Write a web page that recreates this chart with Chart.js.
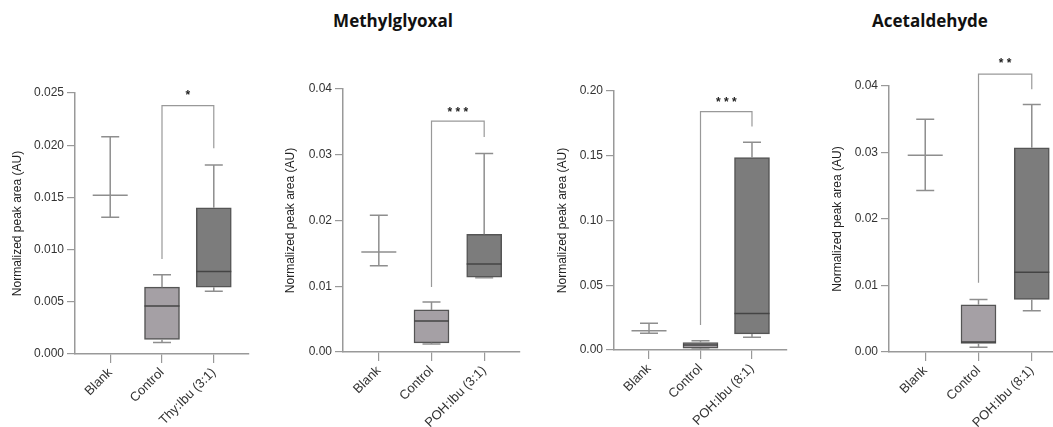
<!DOCTYPE html>
<html>
<head>
<meta charset="utf-8">
<script src="https://cdn.jsdelivr.net/npm/chart.js@4.4.0/dist/chart.umd.min.js"></script>
<style>
  body { margin: 0; background: #fff; width: 1053px; height: 427px; overflow: hidden; position: relative; }
  .panel { position: absolute; top: 0; height: 427px; }
  .title { position: absolute; top: 9px; font-family: 'Open Sans', sans-serif; font-weight: 700; font-size: 17px; color: #111; transform: translateX(-50%); white-space: nowrap; }
</style>
</head>
<body>
<div class="title" style="left:393px">Methylglyoxal</div>
<div class="title" style="left:930px">Acetaldehyde</div>
<div class="panel" style="left:0px;width:260px"><canvas id="c1"></canvas></div>
<div class="panel" style="left:262px;width:262px"><canvas id="c2"></canvas></div>
<div class="panel" style="left:527px;width:265px"><canvas id="c3"></canvas></div>
<div class="panel" style="left:800px;width:270px"><canvas id="c4"></canvas></div>
<script>
// panel 1 - Methylglyoxal, Thy:Ibu (3:1)
var p1Labels = ['Blank', 'Control', 'Thy:Ibu (3:1)'];
var p1Min = [0.0131, 0.0011, 0.0060];
var p1Q1  = [0.0152, 0.0014, 0.0064];
var p1Med = [0.0152, 0.0046, 0.0079];
var p1Q3  = [0.0152, 0.0064, 0.0140];
var p1Max = [0.0208, 0.0076, 0.0181];
var p1Ticks = [0, 0.005, 0.010, 0.015, 0.020, 0.025];
var p1Sig = [0.0238, 0.0091, 0.0197, 0.0250]; // top, left end, right end, star level
var p1Stars = '*';

// panel 2 - Methylglyoxal, POH:Ibu (3:1)
var p2Labels = ['Blank', 'Control', 'POH:Ibu (3:1)'];
var p2Min = [0.0131, 0.0012, 0.0113];
var p2Q1  = [0.0152, 0.0014, 0.0114];
var p2Med = [0.0152, 0.0047, 0.0134];
var p2Q3  = [0.0152, 0.0064, 0.0179];
var p2Max = [0.0208, 0.0076, 0.0302];
var p2Ticks = [0, 0.01, 0.02, 0.03, 0.04];
var p2Sig = [0.0351, 0.0099, 0.0327, 0.0368];
var p2Stars = '* * *';

// panel 3 - POH:Ibu (8:1)
var p3Labels = ['Blank', 'Control', 'POH:Ibu (8:1)'];
var p3Min = [0.0129, 0.0008, 0.0098];
var p3Q1  = [0.0149, 0.0015, 0.0124];
var p3Med = [0.0149, 0.0039, 0.0281];
var p3Q3  = [0.0149, 0.0057, 0.1485];
var p3Max = [0.0206, 0.0072, 0.1604];
var p3Ticks = [0, 0.05, 0.10, 0.15, 0.20];
var p3Sig = [0.184, 0.0193, 0.1725, 0.1936];
var p3Stars = '* * *';

// panel 4 - Acetaldehyde, POH:Ibu (8:1)
var p4Labels = ['Blank', 'Control', 'POH:Ibu (8:1)'];
var p4Min = [0.0243, 0.0007, 0.0062];
var p4Q1  = [0.0296, 0.0013, 0.0079];
var p4Med = [0.0296, 0.0015, 0.0120];
var p4Q3  = [0.0296, 0.0071, 0.0307];
var p4Max = [0.0350, 0.0079, 0.0372];
var p4Ticks = [0, 0.01, 0.02, 0.03, 0.04];
var p4Sig = [0.0418, 0.0104, 0.0395, 0.0438];
var p4Stars = '* *';

var boxFills = ['rgba(0,0,0,0)', '#a5a0a5', '#7c7c7c'];
var boxBorders = ['rgba(0,0,0,0)', '#555555', '#555555'];
var lineGray = '#8e8e8e';

function boxPlugin(d) {
    return {
        id: 'boxes',
        afterDraw: function(chart) {
            var ctx = chart.ctx;
            var x = chart.scales.x, y = chart.scales.y;
            var cap = 9, half = 17.5;
            ctx.save();
            ctx.lineWidth = 1.5;
            for (var i = 0; i < d.min.length; i++) {
                var px = x.getPixelForValue(i);
                ctx.strokeStyle = lineGray;
                // whiskers
                ctx.beginPath();
                ctx.moveTo(px, y.getPixelForValue(d.min[i]));
                ctx.lineTo(px, y.getPixelForValue(d.q1[i]));
                ctx.moveTo(px, y.getPixelForValue(d.q3[i]));
                ctx.lineTo(px, y.getPixelForValue(d.max[i]));
                ctx.moveTo(px - cap, y.getPixelForValue(d.min[i]));
                ctx.lineTo(px + cap, y.getPixelForValue(d.min[i]));
                ctx.moveTo(px - cap, y.getPixelForValue(d.max[i]));
                ctx.lineTo(px + cap, y.getPixelForValue(d.max[i]));
                ctx.stroke();
                // median
                ctx.strokeStyle = i == 0 ? lineGray : '#444';
                ctx.beginPath();
                ctx.moveTo(px - half, y.getPixelForValue(d.med[i]));
                ctx.lineTo(px + half, y.getPixelForValue(d.med[i]));
                ctx.stroke();
            }
            // significance bracket
            var xl = x.getPixelForValue(1), xr = x.getPixelForValue(2);
            ctx.strokeStyle = '#999';
            ctx.lineWidth = 1.2;
            ctx.beginPath();
            ctx.moveTo(xl, y.getPixelForValue(d.sig[1]));
            ctx.lineTo(xl, y.getPixelForValue(d.sig[0]));
            ctx.lineTo(xr, y.getPixelForValue(d.sig[0]));
            ctx.lineTo(xr, y.getPixelForValue(d.sig[2]));
            ctx.stroke();
            ctx.fillStyle = '#222';
            ctx.font = 'bold 12px "Liberation Sans", Arial, sans-serif';
            ctx.textAlign = 'center';
            ctx.textBaseline = 'middle';
            ctx.fillText(d.stars, (xl + xr) / 2, y.getPixelForValue(d.sig[3]) + 3);
            ctx.restore();
        }
    };
}

function makePanel(id, d, lay) {
    var data = d.q1.map(function(q, i) { return { x: i, y: [q, d.q3[i]] }; });
    return new Chart(document.getElementById(id), {
        type: 'bar',
        data: {
            datasets: [{
                data: data,
                backgroundColor: boxFills,
                borderColor: boxBorders,
                borderWidth: 1.5,
                borderSkipped: false,
                barThickness: 35
            }]
        },
        plugins: [boxPlugin(d)],
        options: {
            responsive: true,
            maintainAspectRatio: false,
            animation: false,
            events: [],
            layout: { padding: { left: lay.padLeft, right: lay.padRight, top: lay.top, bottom: 0 } },
            plugins: { legend: { display: false }, tooltip: { enabled: false } },
            scales: {
                x: {
                    type: 'linear',
                    min: -0.68,
                    max: 2.68,
                    offset: false,
                    afterBuildTicks: function(s) { s.ticks = [0, 1, 2].map(function(v) { return { value: v }; }); },
                    afterFit: function(s) { s.height = 427 - lay.bottom; },
                    grid: { offset: false, drawOnChartArea: false, drawTicks: true, tickLength: 9, color: '#999', lineWidth: 1.2 },
                    border: { color: '#999', width: 1.5 },
                    ticks: {
                        autoSkip: false,
                        minRotation: 45,
                        maxRotation: 45,
                        padding: 2,
                        color: '#333',
                        font: { family: '"Liberation Sans", Arial, sans-serif', size: 13 },
                        callback: function(v) { return d.labels[v]; }
                    }
                },
                y: {
                    min: 0,
                    max: d.ticks[d.ticks.length - 1],
                    afterBuildTicks: function(s) { s.ticks = d.ticks.map(function(v) { return { value: v }; }); },
                    afterFit: function(s) { s.width = lay.axisW; },
                    grid: { drawOnChartArea: false, drawTicks: true, tickLength: 8, color: '#999', lineWidth: 1.2 },
                    border: { color: '#999', width: 1.5 },
                    ticks: {
                        padding: 3,
                        color: '#333',
                        font: { family: '"Liberation Sans", Arial, sans-serif', size: 12 },
                        callback: function(v) { return v.toFixed(d.dec); }
                    },
                    title: {
                        display: true,
                        text: 'Normalized peak area (AU)',
                        color: '#222',
                        font: { family: '"Liberation Sans", Arial, sans-serif', size: 12 },
                        padding: 4
                    }
                }
            }
        }
    });
}

makePanel('c1', { labels: p1Labels, min: p1Min, q1: p1Q1, med: p1Med, q3: p1Q3, max: p1Max, ticks: p1Ticks, sig: p1Sig, stars: p1Stars, dec: 3 },
    { padLeft: 6, padRight: 11, axisW: 69, top: 93, bottom: 354 });
makePanel('c2', { labels: p2Labels, min: p2Min, q1: p2Q1, med: p2Med, q3: p2Q3, max: p2Max, ticks: p2Ticks, sig: p2Sig, stars: p2Stars, dec: 2 },
    { padLeft: 17, padRight: 4, axisW: 64, top: 89, bottom: 352 });
makePanel('c3', { labels: p3Labels, min: p3Min, q1: p3Q1, med: p3Med, q3: p3Q3, max: p3Max, ticks: p3Ticks, sig: p3Sig, stars: p3Stars, dec: 2 },
    { padLeft: 24, padRight: 5, axisW: 63, top: 91, bottom: 350 });
makePanel('c4', { labels: p4Labels, min: p4Min, q1: p4Q1, med: p4Med, q3: p4Q3, max: p4Max, ticks: p4Ticks, sig: p4Sig, stars: p4Stars, dec: 2 },
    { padLeft: 26, padRight: 2, axisW: 63, top: 86, bottom: 352 });
</script>
</body>
</html>
